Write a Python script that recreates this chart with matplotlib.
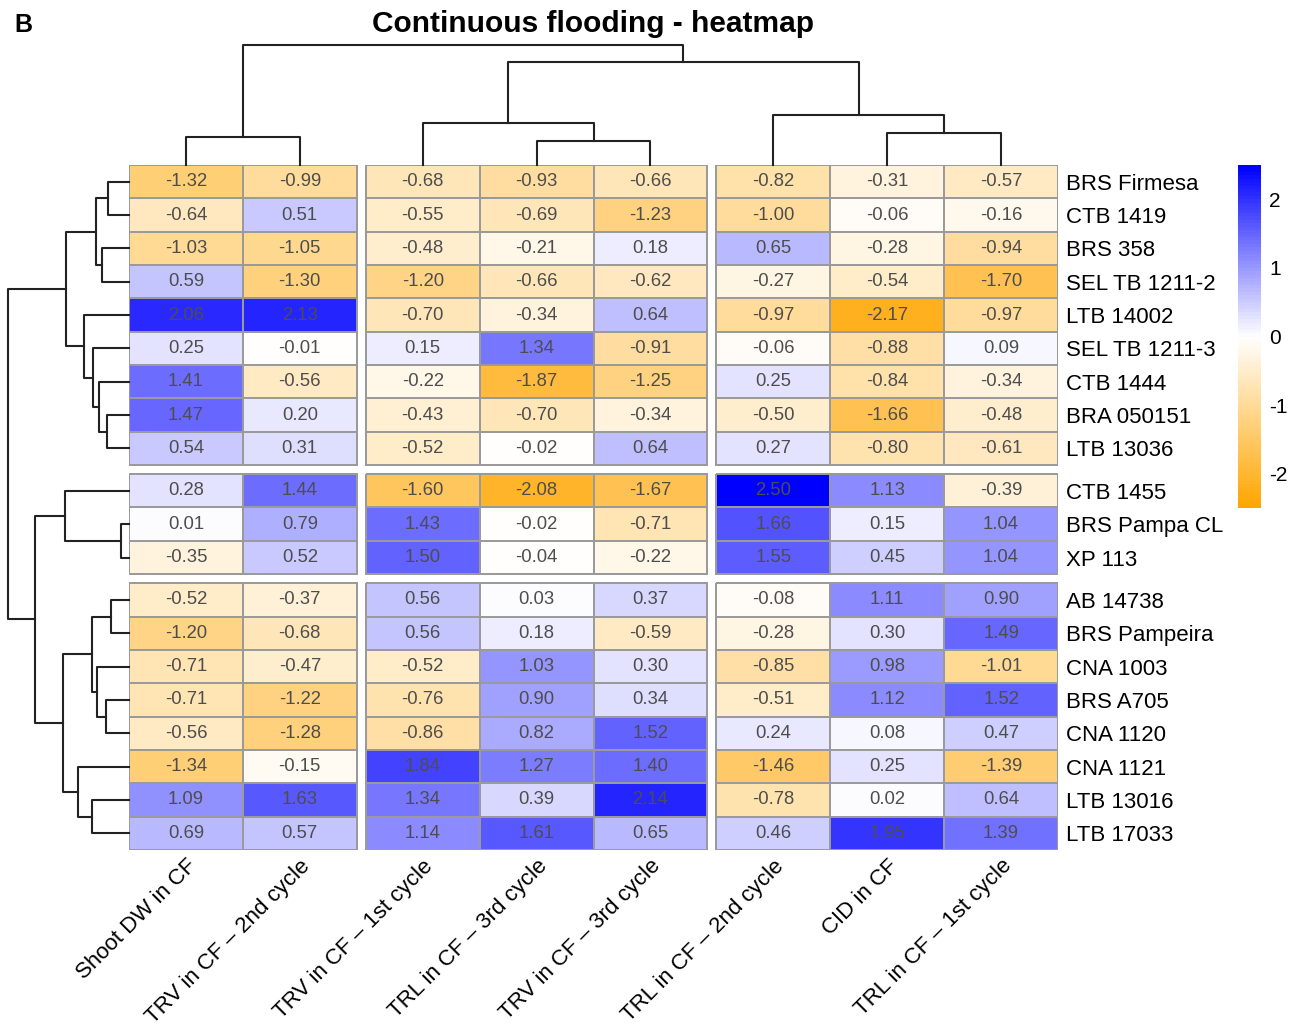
"""Continuous flooding heatmap with row/column dendrograms (pheatmap style)."""

import matplotlib

matplotlib.use("Agg")
import matplotlib.pyplot as plt  # noqa: E402
import numpy as np  # noqa: E402
from matplotlib.colors import LinearSegmentedColormap  # noqa: E402

plt.rcParams["font.family"] = ["Liberation Sans", "DejaVu Sans"]
plt.rcParams["axes.unicode_minus"] = False

# ---- data -------------------------------------------------------------
genotypes = [
    "BRS Firmesa", "CTB 1419", "BRS 358", "SEL TB 1211-2", "LTB 14002",
    "SEL TB 1211-3", "CTB 1444", "BRA 050151", "LTB 13036",
    "CTB 1455", "BRS Pampa CL", "XP 113",
    "AB 14738", "BRS Pampeira", "CNA 1003", "BRS A705", "CNA 1120",
    "CNA 1121", "LTB 13016", "LTB 17033",
]
traits = [
    "Shoot DW in CF", "TRV in CF – 2nd cycle", "TRV in CF – 1st cycle",
    "TRL in CF – 3rd cycle", "TRV in CF – 3rd cycle", "TRL in CF – 2nd cycle",
    "CID in CF", "TRL in CF – 1st cycle",
]
values = np.array([
    [-1.32, -0.99, -0.68, -0.93, -0.66, -0.82, -0.31, -0.57],
    [-0.64, 0.51, -0.55, -0.69, -1.23, -1.00, -0.06, -0.16],
    [-1.03, -1.05, -0.48, -0.21, 0.18, 0.65, -0.28, -0.94],
    [0.59, -1.30, -1.20, -0.66, -0.62, -0.27, -0.54, -1.70],
    [2.06, 2.13, -0.70, -0.34, 0.64, -0.97, -2.17, -0.97],
    [0.25, -0.01, 0.15, 1.34, -0.91, -0.06, -0.88, 0.09],
    [1.41, -0.56, -0.22, -1.87, -1.25, 0.25, -0.84, -0.34],
    [1.47, 0.20, -0.43, -0.70, -0.34, -0.50, -1.66, -0.48],
    [0.54, 0.31, -0.52, -0.02, 0.64, 0.27, -0.80, -0.61],
    [0.28, 1.44, -1.60, -2.08, -1.67, 2.50, 1.13, -0.39],
    [0.01, 0.79, 1.43, -0.02, -0.71, 1.66, 0.15, 1.04],
    [-0.35, 0.52, 1.50, -0.04, -0.22, 1.55, 0.45, 1.04],
    [-0.52, -0.37, 0.56, 0.03, 0.37, -0.08, 1.11, 0.90],
    [-1.20, -0.68, 0.56, 0.18, -0.59, -0.28, 0.30, 1.49],
    [-0.71, -0.47, -0.52, 1.03, 0.30, -0.85, 0.98, -1.01],
    [-0.71, -1.22, -0.76, 0.90, 0.34, -0.51, 1.12, 1.52],
    [-0.56, -1.28, -0.86, 0.82, 1.52, 0.24, 0.08, 0.47],
    [-1.34, -0.15, 1.84, 1.27, 1.40, -1.46, 0.25, -1.39],
    [1.09, 1.63, 1.34, 0.39, 2.14, -0.78, 0.02, 0.64],
    [0.69, 0.57, 1.14, 1.61, 0.65, 0.46, 1.95, 1.39],
])

# cutree groups (index where a new group starts)
row_breaks = [9, 12]
col_breaks = [2, 5]

# linkage (scipy style: new clusters get ids n, n+1, ...), leaves in display order
row_merges = [
    (10, 11, 8), (12, 13, 18), (0, 1, 21), (7, 8, 22), (15, 16, 23),
    (2, 3, 27), (6, 23, 30), (14, 24, 32), (22, 25, 33), (5, 26, 36),
    (21, 27, 36.7), (18, 19, 37.3), (4, 29, 45), (17, 31, 51),
    (28, 32, 63), (9, 20, 64), (30, 33, 66), (35, 36, 94), (34, 37, 121),
]
col_merges = [
    (3, 4, 24), (0, 1, 28), (6, 7, 32), (2, 8, 42), (5, 10, 50),
    (11, 12, 103), (9, 13, 120),
]

# ---- layout -----------------------------------------------------------
W, H = 1301, 1030
gap_x, gap_y = 0.08, 0.27
cmap = LinearSegmentedColormap.from_list("ow_b", ["orange", "white", "blue"], N=100)
vmin, vmax = -2.5, 2.5
grid_col = "#9a9a9a"
text_col = "#4d4d4d"


def fig_rect(x0, y0, x1, y1):
    return [x0 / W, 1 - y1 / H, (x1 - x0) / W, (y1 - y0) / H]


def group_edges(n, breaks, gap):
    groups = []
    starts = [0] + breaks
    ends = breaks + [n]
    for g, (s, e) in enumerate(zip(starts, ends)):
        off = g * gap
        groups.append((s, e, np.arange(s, e + 1) + off))
    centers = np.concatenate([np.arange(s, e) + 0.5 + gi * gap
                              for gi, (s, e, _) in enumerate(groups)])
    return groups, centers


def dendro_segments(merges, leaf_pos):
    pos = list(leaf_pos)
    hgt = [0.0] * len(leaf_pos)
    segs = []
    for a, b, h in merges:
        segs.append(([pos[a], pos[a], pos[b], pos[b]], [hgt[a], h, h, hgt[b]]))
        pos.append((pos[a] + pos[b]) / 2)
        hgt.append(h)
    return segs


n_rows, n_cols = values.shape
row_groups, row_centers = group_edges(n_rows, row_breaks, gap_y)
col_groups, col_centers = group_edges(n_cols, col_breaks, gap_x)
x_max = n_cols + gap_x * len(col_breaks)
y_max = n_rows + gap_y * len(row_breaks)

fig = plt.figure(figsize=(W / 100, H / 100), dpi=100)

# heatmap
ax = fig.add_axes(fig_rect(129, 165, 1058, 850))
for rs, re, ry in row_groups:
    for cs, ce, cx in col_groups:
        mesh = ax.pcolormesh(cx, ry, values[rs:re, cs:ce], cmap=cmap,
                             vmin=vmin, vmax=vmax, edgecolors=grid_col,
                             linewidth=1.3)
for i, yc in enumerate(row_centers):
    for j, xc in enumerate(col_centers):
        ax.text(xc, yc, f"{values[i, j]:.2f}", ha="center", va="center",
                fontsize=13.3, color=text_col)
ax.set_xlim(0, x_max)
ax.set_ylim(y_max, 0)
for s in ax.spines.values():
    s.set_visible(False)
ax.yaxis.tick_right()
ax.set_yticks(row_centers, genotypes, fontsize=16)
ax.set_xticks(col_centers)
ax.set_xticklabels(traits, fontsize=16, rotation=45, ha="right", va="top",
                   rotation_mode="anchor")
ax.tick_params(length=0)
ax.tick_params(axis="y", pad=5.5)
ax.tick_params(axis="x", pad=4)

# column dendrogram
axt = fig.add_axes(fig_rect(129, 45, 1058, 165))
for xs, ys in dendro_segments(col_merges, col_centers):
    axt.plot(xs, ys, color="#222222", lw=1.5, clip_on=False)
axt.set_xlim(0, x_max)
axt.set_ylim(0, max(m[2] for m in col_merges))
axt.axis("off")

# row dendrogram
axl = fig.add_axes(fig_rect(8, 165, 129, 850))
for ys, xs in dendro_segments(row_merges, row_centers):
    axl.plot(xs, ys, color="#222222", lw=1.5, clip_on=False)
axl.set_ylim(y_max, 0)
axl.set_xlim(max(m[2] for m in row_merges), 0)
axl.axis("off")

# colour legend
cax = fig.add_axes(fig_rect(1238, 165, 1261, 508))
cb = fig.colorbar(mesh, cax=cax, ticks=[-2, -1, 0, 1, 2])
cb.outline.set_visible(False)
cb.ax.tick_params(length=0, labelsize=15, pad=6)

fig.text(593 / W, 1 - 24 / H, "Continuous flooding - heatmap", ha="center",
         va="center", fontsize=21.5, fontweight="bold")
fig.text(14 / W, 1 - 25 / H, "B", ha="left", va="center", fontsize=18,
         fontweight="bold")

fig.savefig("out.png", dpi=100)
